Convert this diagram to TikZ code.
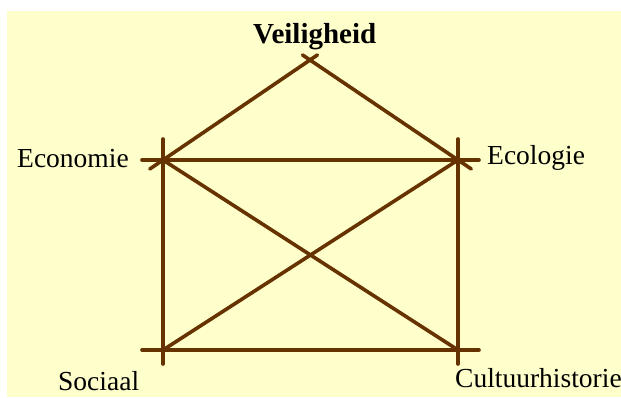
\documentclass[tikz,border=0pt]{standalone}
\usepackage{fontspec}
\setmainfont{Liberation Serif}
\usetikzlibrary{calc}
\definecolor{bg}{HTML}{FFFFCC}
\definecolor{beam}{HTML}{663300}
\tikzset{
  beamline/.style={draw=beam,line width=3.6pt,line cap=round},
  lbl/.style={anchor=base west,inner sep=0pt,font=\fontsize{27.5}{32}\selectfont},
}
\begin{document}
\begin{tikzpicture}[x=1pt,y=-1pt]
\useasboundingbox (0,0) rectangle (621,397);
\fill[bg] (7,11) rectangle (621,397);
\coordinate (top) at (310,60);
\coordinate (eco) at (163,160);
\coordinate (ecl) at (458,160);
\coordinate (soc) at (163,350);
\coordinate (cul) at (458,350);
% roof
\draw[beamline] ($(eco)!-16pt!(top)$) -- ($(top)!-9pt!(eco)$);
\draw[beamline] ($(ecl)!-16pt!(top)$) -- ($(top)!-9pt!(ecl)$);
% horizontals
\draw[beamline] ($(eco)!-21pt!(ecl)$) -- ($(ecl)!-21pt!(eco)$);
\draw[beamline] ($(soc)!-21pt!(cul)$) -- ($(cul)!-21pt!(soc)$);
% verticals
\draw[beamline] ($(eco)!-21pt!(soc)$) -- ($(soc)!-14pt!(eco)$);
\draw[beamline] ($(ecl)!-21pt!(cul)$) -- ($(cul)!-14pt!(ecl)$);
% diagonals
\draw[beamline] (eco) -- (cul);
\draw[beamline] (soc) -- (ecl);
% labels
\node[lbl,font=\fontsize{29}{34}\selectfont\bfseries] (veil) at (253,43) {Veiligheid};
\node[lbl] (econ) at (17,167) {Economie};
\node[lbl] (ecol) at (487,164) {Ecologie};
\node[lbl] (soci) at (58,390) {Sociaal};
\node[lbl] (cult) at (455,387) {Cultuurhistorie};
\end{tikzpicture}
\end{document}
